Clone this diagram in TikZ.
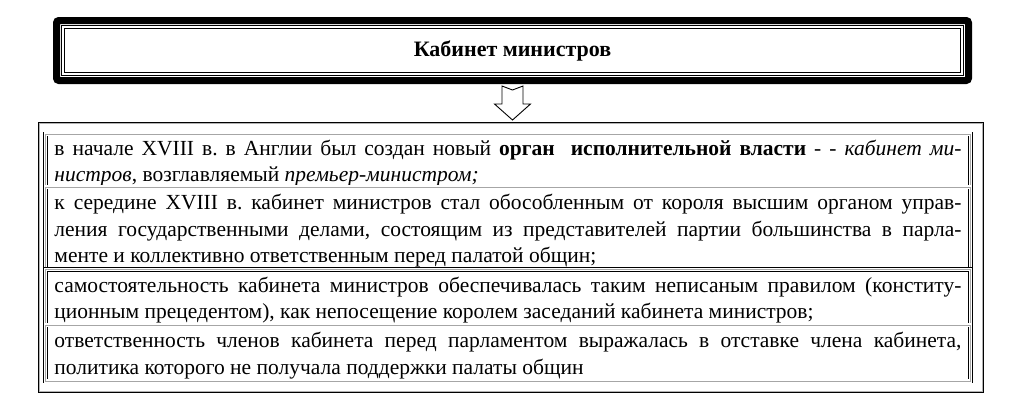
\documentclass[tikz,border=0pt]{standalone}
\usepackage{fontspec}
\setmainfont{Liberation Serif}
\usetikzlibrary{calc,positioning,fit}
\frenchspacing

\begin{document}
\begin{tikzpicture}[x=1pt, y=-1pt,
    titlebox/.style={draw=black, line width=7pt, rounded corners=2.5pt, minimum width=912pt, minimum height=60pt, inner sep=0pt, font=\fontsize{22}{26}\selectfont\bfseries},
    rowbox/.style={preaction={draw=black, line width=4.6pt}, preaction={draw=white, line width=3.2pt}, draw=gray!70, line width=0.9pt, text width=907pt, inner xsep=8.75pt, inner ysep=0pt, outer sep=0pt, align=none, font=\fontsize{21.5}{26.5}\selectfont, execute at begin node={\tolerance=9999\relax\hyphenpenalty=10000\relax\rule{0pt}{21pt}}},
    framebox/.style={draw=black, line width=1pt, inner sep=0pt},
    blockarrow/.style={draw=black, line width=0.9pt, fill=white, line join=miter}]
    \useasboundingbox (0,0) rectangle (1024,407);

    % Title box with the inner double frame
    \node[titlebox] (title) at (512.5,50.5) {Кабинет министров};
    \draw[line width=0.9pt, double=white, double distance=1.4pt] ($(title.north west)+(10,10)$) rectangle ($(title.south east)+(-10,-10)$);

    % Rows of the table
    \node[rowbox, minimum height=53pt] (r1) at (507.95,160.5) {в начале XVIII в. в Англии был создан новый \textbf{орган\ \ исполнительной власти} - - \textit{кабинет ми-\linebreak нистров}, возглавляемый \textit{премьер-министром;}};
    \node[rowbox, minimum height=82.5pt, below=0pt of r1] (r2) {к середине XVIII в. кабинет министров стал обособленным от короля высшим органом управ-\linebreak ления государственными делами, состоящим из представителей партии большинства в парла-\linebreak менте и коллективно ответственным перед палатой общин;};
    \node[rowbox, minimum height=55.5pt, below=0pt of r2] (r3) {самостоятельность кабинета министров обеспечивалась таким неписаным правилом (конститу-\linebreak ционным прецедентом), как непосещение королем заседаний кабинета министров;};
    \node[rowbox, minimum height=56pt, below=0pt of r3] (r4) {ответственность членов кабинета перед парламентом выражалась в отставке члена кабинета,\linebreak политика которого не получала поддержки палаты общин};

    % Outer frame round the table
    \node[framebox, fit={($(r1.north west)+(-7.7,-12)$) ($(r4.south east)+(13,11)$)}] (frame) {};
    \draw[gray!60, line width=0.8pt] ($(frame.north west)+(1.6,1.6)$) rectangle ($(frame.south east)+(-1.6,-1.6)$);

    % Hollow arrow from the title down to the table
    \coordinate (tip) at ($(title.south |- frame.north)+(0,-1.5)$);
    \draw[blockarrow] ($(title.south)+(-10.5,2)$) -- ++(10.5,4) -- ++(10.5,-4) -- ++(0,18) -- ++(7.5,0) -- (tip) -- ++(-18,-16) -- ++(7.5,0) -- cycle;

\end{tikzpicture}
\end{document}
